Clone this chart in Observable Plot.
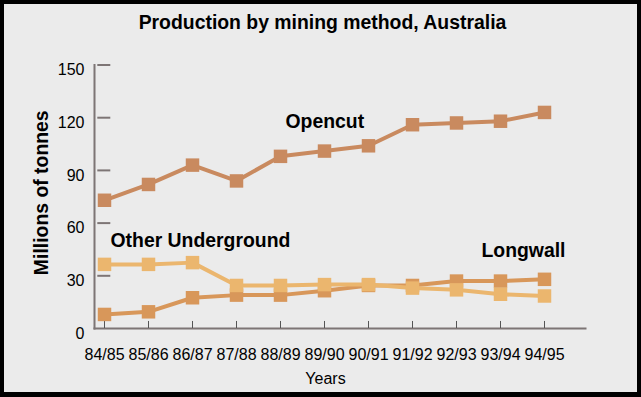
<!DOCTYPE html>
<html><head><meta charset="utf-8">
<script src="https://cdn.jsdelivr.net/npm/d3@7"></script>
<script src="https://cdn.jsdelivr.net/npm/@observablehq/plot@0.6"></script>
<style>
html,body{margin:0;padding:0;background:#ebebeb;}
#page{position:relative;width:641px;height:397px;background:#ebebeb;overflow:hidden;font-family:"Liberation Sans",Arial,sans-serif;}
#title{position:absolute;left:0;top:11px;width:641px;height:22px;line-height:22px;text-align:center;font-weight:bold;font-size:19.4px;color:#000;padding-left:4px;box-sizing:border-box;}
#chart{position:absolute;left:0;top:40px;}
#border{position:absolute;left:0;top:0;width:641px;height:397px;box-sizing:border-box;border:4px solid #000;border-bottom-width:5px;pointer-events:none;}
</style>
</head><body>
<div id="page">
  <div id="title">Production by mining method, Australia</div>
  <div id="chart"></div>
  <div id="border"></div>
</div>
<script>
const years = ["84/85","85/86","86/87","87/88","88/89","89/90","90/91","91/92","92/93","93/94","94/95"];
const opencut = [73, 82, 93, 84, 98, 101, 104, 116, 117, 118, 123];
const longwall = [8, 9.5, 17.5, 19, 19, 21.5, 24.5, 24.5, 27, 27, 28];
const otherUnderground = [36.5, 36.5, 37.5, 24.5, 24.5, 25, 25, 23, 22, 19.5, 18.5];
const seriesNames = ["Opencut", "Longwall", "Other Underground"];
const seriesColors = ["#c98a5f", "#d8975a", "#ebb66e"];
const yTicks = [0, 30, 60, 90, 120, 150];
const yLabel = "Millions of tonnes";
const xLabel = "Years";
// series label anchors (category + value) for annotations
const labelYears = ["88/89", "94/95", "84/85"];
const labelValues = [117.9, 44.1, 50.1];

const seriesValues = [opencut, longwall, otherUnderground];
const rows = [];
seriesNames.forEach((s, i) => years.forEach((y, j) => rows.push({series: s, year: y, value: seriesValues[i][j]})));
const labels = seriesNames.map((s, i) => ({series: s, year: labelYears[i], value: labelValues[i]}));

const drawOrder = ["Opencut", "Longwall", "Other Underground"];
const axisColor = "#7d7575";

const marks = [
  Plot.frame({anchor: "left", stroke: axisColor, strokeWidth: 2}),
  Plot.frame({anchor: "bottom", stroke: axisColor, strokeWidth: 2}),
  Plot.ruleY(yTicks.filter(t => t > 0), {y: d => d, x1: () => years[0], x2: () => years[0], insetLeft: -6.7, insetRight: -6.3, stroke: axisColor, strokeWidth: 2}),
  Plot.ruleX(years, {x: d => d, y1: 0, y2: 4, stroke: "#555", strokeWidth: 1}),
  Plot.axisY({ticks: yTicks, tickSize: 0, tickPadding: 10, dy: 5, fontSize: 16, fill: "#000", label: null}),
  Plot.axisX({tickSize: 0, tickPadding: 20, fontSize: 16, fill: "#000", label: null})
];
for (const s of drawOrder) {
  const d = rows.filter(r => r.series === s);
  const c = seriesColors[seriesNames.indexOf(s)];
  marks.push(Plot.line(d, {x: "year", y: "value", stroke: c, strokeWidth: 4}));
  marks.push(Plot.dot(d, {x: "year", y: "value", symbol: "square", r: 7.6, fill: c, stroke: "none"}));
}
marks.push(
  Plot.text([labels[0]], {x: "year", y: "value", text: "series", textAnchor: "start", dx: 5, fontSize: 19.4, fontWeight: "bold", fill: "#000"}),
  Plot.text([labels[1]], {x: "year", y: "value", text: "series", textAnchor: "end", dx: 21, fontSize: 19.4, fontWeight: "bold", fill: "#000"}),
  Plot.text([labels[2]], {x: "year", y: "value", text: "series", textAnchor: "start", dx: 6, fontSize: 19.4, fontWeight: "bold", fill: "#000"}),
  Plot.text([yLabel], {frameAnchor: "left", text: d => d, rotate: -90, textAnchor: "middle", lineAnchor: "middle", dx: -53, dy: -4, fontSize: 19.4, fontWeight: "bold", fill: "#000"}),
  Plot.text([xLabel], {frameAnchor: "bottom", text: d => d, textAnchor: "middle", lineAnchor: "middle", dx: -14.5, dy: 50, fontSize: 16, fill: "#000"})
);

const chart = Plot.plot({
  width: 641,
  height: 357,
  marginLeft: 94,
  marginRight: 56,
  marginTop: 24.5,
  marginBottom: 69,
  style: {background: "transparent", fontFamily: "'Liberation Sans', Arial, sans-serif", color: "#000", overflow: "visible"},
  x: {type: "point", domain: years, range: [100.7, 546.7], padding: 0},
  y: {domain: [0, 150]},
  marks
});
document.getElementById("chart").appendChild(chart);
</script>
</body></html>
